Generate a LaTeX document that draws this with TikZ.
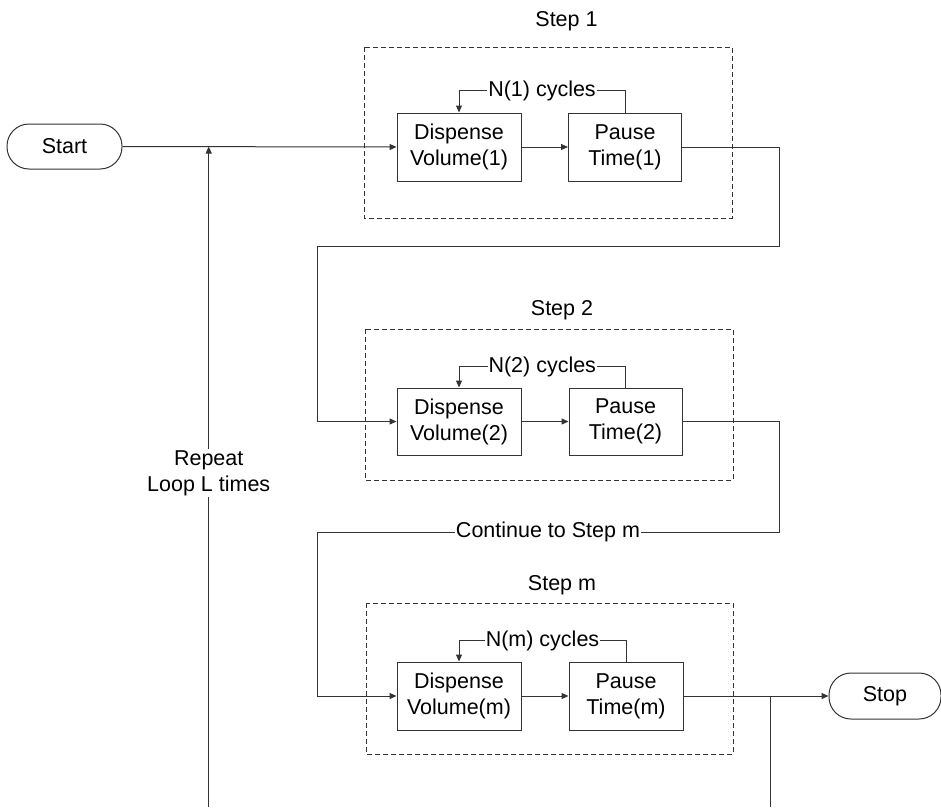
\documentclass[tikz,border=0pt]{standalone}
\usepackage{fontspec}
\setmainfont{Liberation Sans}
\usetikzlibrary{arrows.meta,calc}
\begin{document}
\begin{tikzpicture}[x=1pt,y=-1pt,
  every node/.style={font=\fontsize{21.5}{26}\selectfont, text=black},
  ln/.style={line width=1pt, draw=black!80},
  arr/.style={ln, -{Triangle[length=7pt,width=6pt]}},
  box/.style={ln, rectangle, align=center, inner sep=0pt},
  dbox/.style={line width=1pt, draw=black!80, dash pattern=on 5pt off 3pt},
  term/.style={ln, rectangle, rounded corners=22pt, inner sep=0pt},
  lbl/.style={fill=white, inner xsep=1pt, inner ysep=2pt},
  steplbl/.style={anchor=base}
]
\useasboundingbox (0,0) rectangle (941,807);

% terminals
\node[term, minimum width=115pt, minimum height=45pt] (start) at (64.5,146.5) {Start};
\node[term, minimum width=112pt, minimum height=46pt] (stop) at (885,696) {Stop};

% step 1
\draw[dbox] (364,47) rectangle (732,218);
\node[steplbl] (s1) at (566.5,26.7) {Step 1};
\node[box, minimum width=124pt, minimum height=68pt] (d1) at (459,147) {Dispense\\Volume(1)};
\node[box, minimum width=113pt, minimum height=68pt] (p1) at (625,147) {Pause\\Time(1)};

% step 2
\draw[dbox] (365,329) rectangle (733,480);
\node[steplbl] (s2) at (562,315) {Step 2};
\node[box, minimum width=124pt, minimum height=67pt] (d2) at (459,421.5) {Dispense\\Volume(2)};
\node[box, minimum width=113pt, minimum height=67pt] (p2) at (625.5,421.5) {Pause\\Time(2)};

% step m
\draw[dbox] (366,603) rectangle (733,754);
\node[steplbl] (sm) at (562,590.7) {Step m};
\node[box, minimum width=124pt, minimum height=68pt] (dm) at (459,696) {Dispense\\Volume(m)};
\node[box, minimum width=114pt, minimum height=68pt] (pm) at (626,696) {Pause\\Time(m)};

% waypoints
\coordinate (r1) at (779,246);
\coordinate (l1) at (317,246);
\coordinate (r2) at (779,532);
\coordinate (l2) at (317,532);
\coordinate (bl) at (208.7,807);
\coordinate (bj) at (770,696);
\coordinate (bb) at (770,807);

% start into step 1 and repeat loop
\draw[arr] (start.east) -- (d1.west);
\node[lbl, align=center, inner ysep=1pt] (rep) at (208.7,473) {Repeat\\Loop L times};
\draw[ln] (bl) -- (rep.south);
\draw[arr] (rep.north) -- (bl |- start.east);

% step 1 internals
\draw[arr] (d1.east) -- (p1.west);
\draw[arr] (p1.north) -- ++(0,-22) -| node[pos=0.25, lbl] {N(1) cycles} (d1.north);

% step 1 -> step 2
\draw[arr] (p1.east) -| (r1) -- (l1) |- (d2.west);

% step 2 internals
\draw[arr] (d2.east) -- (p2.west);
\draw[arr] (p2.north) -- ++(0,-21) -| node[pos=0.25, lbl] {N(2) cycles} (d2.north);

% step 2 -> step m
\draw[arr] (p2.east) -| (r2) -- node[lbl] {Continue to Step m} (l2) |- (dm.west);

% step m internals
\draw[arr] (dm.east) -- (pm.west);
\draw[arr] (pm.north) -- ++(0,-21) -| node[pos=0.25, lbl] {N(m) cycles} (dm.north);

% to stop and loop back
\draw[arr] (pm.east) -- (stop.west);
\draw[ln] (bj) -- (bb);
\end{tikzpicture}
\end{document}
